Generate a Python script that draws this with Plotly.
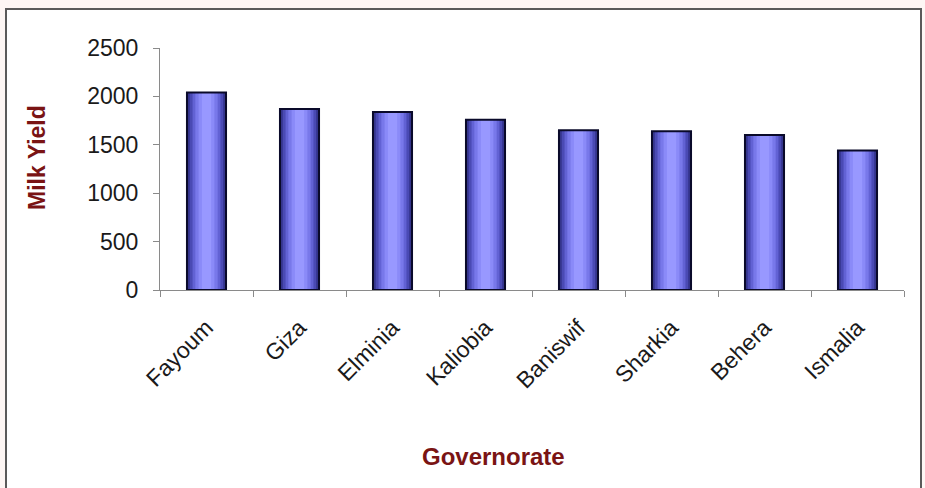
import plotly.graph_objects as go

categories = ["Fayoum", "Giza", "Elminia", "Kaliobia", "Baniswif", "Sharkia", "Behera", "Ismalia"]
milk_yield = [2040, 1870, 1840, 1760, 1650, 1640, 1600, 1440]
y_ticks = [0, 500, 1000, 1500, 2000, 2500]

# plot-area geometry in pixels
W, H = 925, 488
L, R, T, B = 160, 904, 48, 290
pw, ph = R - L, B - T

def px_x(x):
    return (x - L) / pw

def px_y(y):
    return (B - y) / ph

fig = go.Figure()

# pseudo-gradient: stacked overlay bars, lighter toward the centre
shades = [(0.42, "#34348c"), (0.36, "#4a4ab4"), (0.30, "#6262d4"),
          (0.24, "#7878ea"), (0.17, "#8a8af8"), (0.10, "#9898ff")]
for w, c in shades:
    fig.add_trace(go.Bar(x=categories, y=milk_yield, width=w,
                         marker=dict(color=c, line=dict(width=0)),
                         hoverinfo="skip", showlegend=False))
# outline
fig.add_trace(go.Bar(x=categories, y=milk_yield, width=0.42,
                     marker=dict(color="rgba(0,0,0,0)",
                                 line=dict(color="#0a0a2a", width=2)),
                     showlegend=False))

fig.update_layout(
    width=W, height=H,
    margin=dict(l=L, r=W - R, t=T, b=H - B, pad=0),
    barmode="overlay",
    paper_bgcolor="#fdf6f4",
    plot_bgcolor="white",
    font=dict(family="Liberation Sans, Arial, sans-serif", color="#1a1a1a"),
    showlegend=False,
)

fig.update_xaxes(
    type="category", tickangle=-45, tickfont=dict(size=23),
    showgrid=False, showline=True, linecolor="#8a8a8a", linewidth=1,
    ticks="outside", ticklen=6, tickcolor="#8a8a8a", tickson="boundaries",
    ticklabelstandoff=14, zeroline=False,
)
fig.update_yaxes(
    range=[0, 2500], tickvals=y_ticks, tickfont=dict(size=23),
    showgrid=False, showline=True, linecolor="#8a8a8a", linewidth=1,
    ticks="outside", ticklen=6, tickcolor="#8a8a8a", ticklabelstandoff=10,
    zeroline=False,
)

# white panel with frame
fig.add_shape(type="rect", xref="paper", yref="paper",
              x0=px_x(6), x1=px_x(921), y0=px_y(495), y1=px_y(9),
              fillcolor="white", line=dict(color="#5a5a5a", width=2),
              layer="below")

fig.add_annotation(text="<b>Governorate</b>", xref="paper", yref="paper",
                   x=px_x(493), y=px_y(456), xanchor="center", yanchor="middle",
                   showarrow=False, font=dict(size=24, color="#7a1414"))
fig.add_annotation(text="<b>Milk Yield</b>", xref="paper", yref="paper",
                   x=px_x(37), y=px_y(158), xanchor="center", yanchor="middle",
                   showarrow=False, textangle=-90,
                   font=dict(size=23, color="#7a1414"))

fig.write_html("out.html")
